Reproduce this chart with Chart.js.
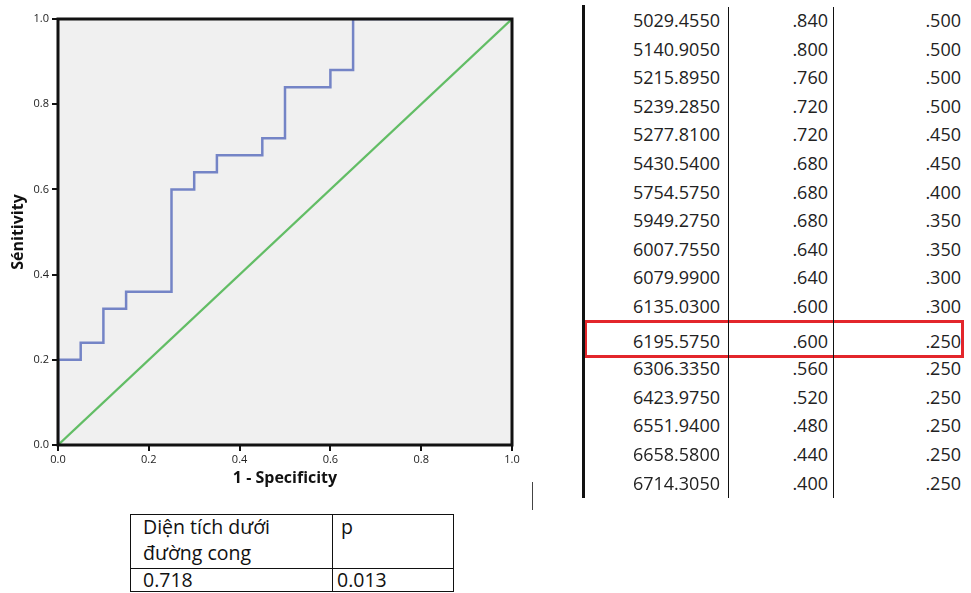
<!DOCTYPE html>
<html>
<head>
<meta charset="utf-8">
<script src="https://cdn.jsdelivr.net/npm/chart.js@4.4.0/dist/chart.umd.min.js"></script>
<style>
  body { margin: 0; background: #fff; font-family: 'Open Sans', sans-serif; }
  #wrap { position: relative; width: 971px; height: 593px; overflow: hidden; }
  #roc { position: absolute; left: 0; top: 0; }
  .cell { position: absolute; font-size: 18px; color: #222; text-align: right; line-height: 20px; white-space: nowrap; }
  .vline { position: absolute; background: #111; }
  .txt { position: absolute; font-size: 19.5px; color: #111; line-height: 26px; white-space: nowrap; }
  #redBox { position: absolute; left: 584px; top: 320px; width: 374px; height: 32px; border: 3px solid #e3262b; }
</style>
</head>
<body>
<div id="wrap">
  <canvas id="roc" width="535" height="500"></canvas>
  <div id="redBox"></div>
</div>
<script>
'use strict';

// ROC curve points (1 - specificity, sensitivity)
var fpr = [0, 0, 0.05, 0.1, 0.15, 0.25, 0.3, 0.35, 0.45, 0.5, 0.6, 0.65, 1];
var tpr = [0, 0.2, 0.24, 0.32, 0.36, 0.6, 0.64, 0.68, 0.72, 0.84, 0.88, 1, 1];
// reference diagonal
var refX = [0, 1];
var refY = [0, 1];
var tickValues = [0, 0.2, 0.4, 0.6, 0.8, 1.0];

// coordinates table on the right
var cutoffs = ['5029.4550', '5140.9050', '5215.8950', '5239.2850', '5277.8100', '5430.5400',
  '5754.5750', '5949.2750', '6007.7550', '6079.9900', '6135.0300', '6195.5750',
  '6306.3350', '6423.9750', '6551.9400', '6658.5800', '6714.3050'];
var sensCol = ['.840', '.800', '.760', '.720', '.720', '.680', '.680', '.680', '.640', '.640',
  '.600', '.600', '.560', '.520', '.480', '.440', '.400'];
var fprCol = ['.500', '.500', '.500', '.500', '.450', '.450', '.400', '.350', '.350', '.300',
  '.300', '.250', '.250', '.250', '.250', '.250', '.250'];
var highlightRow = 11;

// area under curve box
var aucHeader = ['Diện tích dưới', 'đường cong'];
var pHeader = 'p';
var aucValue = '0.718';
var pValue = '0.013';

// ------------------ the tables ------------------
var wrap = document.getElementById('wrap');
function addDiv(cls, css, text) {
  var d = document.createElement('div');
  d.className = cls;
  d.style.cssText = css;
  if (text) d.textContent = text;
  wrap.appendChild(d);
}
addDiv('vline', 'left:582px;top:5px;width:3px;height:493px;');
addDiv('vline', 'left:728px;top:7px;width:1px;height:491px;');
addDiv('vline', 'left:833px;top:7px;width:1px;height:491px;');
addDiv('vline', 'left:532px;top:482px;width:1px;height:28px;background:#444;');

for (var i = 0; i < cutoffs.length; i++) {
  var cy = 20 + i * 28.6;
  if (i === highlightRow) cy += 6;
  if (i > highlightRow) cy += 5;
  var rowTop = (cy - 10) + 'px;';
  addDiv('cell', 'left:600px;width:120px;top:' + rowTop, cutoffs[i]);
  addDiv('cell', 'left:740px;width:88px;top:' + rowTop, sensCol[i]);
  addDiv('cell', 'left:860px;width:101px;top:' + rowTop, fprCol[i]);
}

// bottom box: outer frame + dividers
addDiv('vline', 'left:130px;top:514px;width:323px;height:1px;');
addDiv('vline', 'left:130px;top:591px;width:323px;height:1px;');
addDiv('vline', 'left:130px;top:514px;width:1px;height:78px;');
addDiv('vline', 'left:453px;top:514px;width:1px;height:78px;');
addDiv('vline', 'left:332px;top:514px;width:1px;height:78px;');
addDiv('vline', 'left:130px;top:568px;width:323px;height:1px;');
addDiv('txt', 'left:143px;top:514px;', aucHeader[0]);
addDiv('txt', 'left:143px;top:540px;', aucHeader[1]);
addDiv('txt', 'left:341px;top:514px;', pHeader);
addDiv('txt', 'left:143px;top:567px;', aucValue);
addDiv('txt', 'left:337px;top:567px;', pValue);

// ------------------ the chart ------------------
var rocPoints = fpr.map(function (x, k) { return { x: x, y: tpr[k] }; });
var refPoints = refX.map(function (x, k) { return { x: x, y: refY[k] }; });

var frame = {
  id: 'frame',
  beforeDatasetsDraw: function (chart) {
    var a = chart.chartArea;
    var ctx = chart.ctx;
    ctx.save();
    ctx.fillStyle = '#f0f0f0';
    ctx.fillRect(a.left, a.top, a.right - a.left, a.bottom - a.top);
    ctx.restore();
  },
  afterDatasetsDraw: function (chart) {
    var a = chart.chartArea;
    var ctx = chart.ctx;
    ctx.save();
    ctx.strokeStyle = '#111';
    ctx.lineWidth = 3;
    ctx.strokeRect(a.left, a.top, a.right - a.left, a.bottom - a.top);
    ctx.restore();
  }
};

var tickFont = { family: 'Open Sans', size: 11 };
var titleFont = { family: 'Open Sans', size: 16, weight: 'bold' };

new Chart(document.getElementById('roc').getContext('2d'), {
  type: 'scatter',
  data: {
    datasets: [
      {
        label: 'ROC',
        data: rocPoints,
        showLine: true,
        stepped: 'before',
        borderColor: '#7484c6',
        borderWidth: 2.5,
        pointRadius: 0
      },
      {
        label: 'Reference',
        data: refPoints,
        showLine: true,
        borderColor: '#62bd65',
        borderWidth: 2.3,
        pointRadius: 0
      }
    ]
  },
  options: {
    responsive: false,
    animation: false,
    layout: { padding: { left: 5, top: 19, right: 23, bottom: 8 } },
    plugins: { legend: { display: false }, tooltip: { enabled: false } },
    scales: {
      x: {
        type: 'linear',
        min: 0,
        max: 1,
        afterBuildTicks: function (s) { s.ticks = tickValues.map(function (v) { return { value: v }; }); },
        afterFit: function (s) { s.height = 47; },
        ticks: { color: '#222', font: tickFont, padding: 2, maxRotation: 0,
          callback: function (v) { return Number(v).toFixed(1); } },
        grid: { drawOnChartArea: false, drawTicks: true, tickLength: 6, color: '#111', lineWidth: 2 },
        border: { display: false },
        title: { display: true, text: '1 - Specificity', color: '#111', font: titleFont, padding: { top: 1 } }
      },
      y: {
        type: 'linear',
        min: 0,
        max: 1,
        afterBuildTicks: function (s) { s.ticks = tickValues.map(function (v) { return { value: v }; }); },
        afterFit: function (s) { s.width = 53; },
        ticks: { color: '#222', font: tickFont, padding: 3,
          callback: function (v) { return Number(v).toFixed(1); } },
        grid: { drawOnChartArea: false, drawTicks: true, tickLength: 6, color: '#111', lineWidth: 2 },
        border: { display: false },
        title: { display: true, text: 'Sénitivity', color: '#111', font: titleFont, padding: { bottom: 3 } }
      }
    }
  },
  plugins: [frame]
});
</script>
</body>
</html>
